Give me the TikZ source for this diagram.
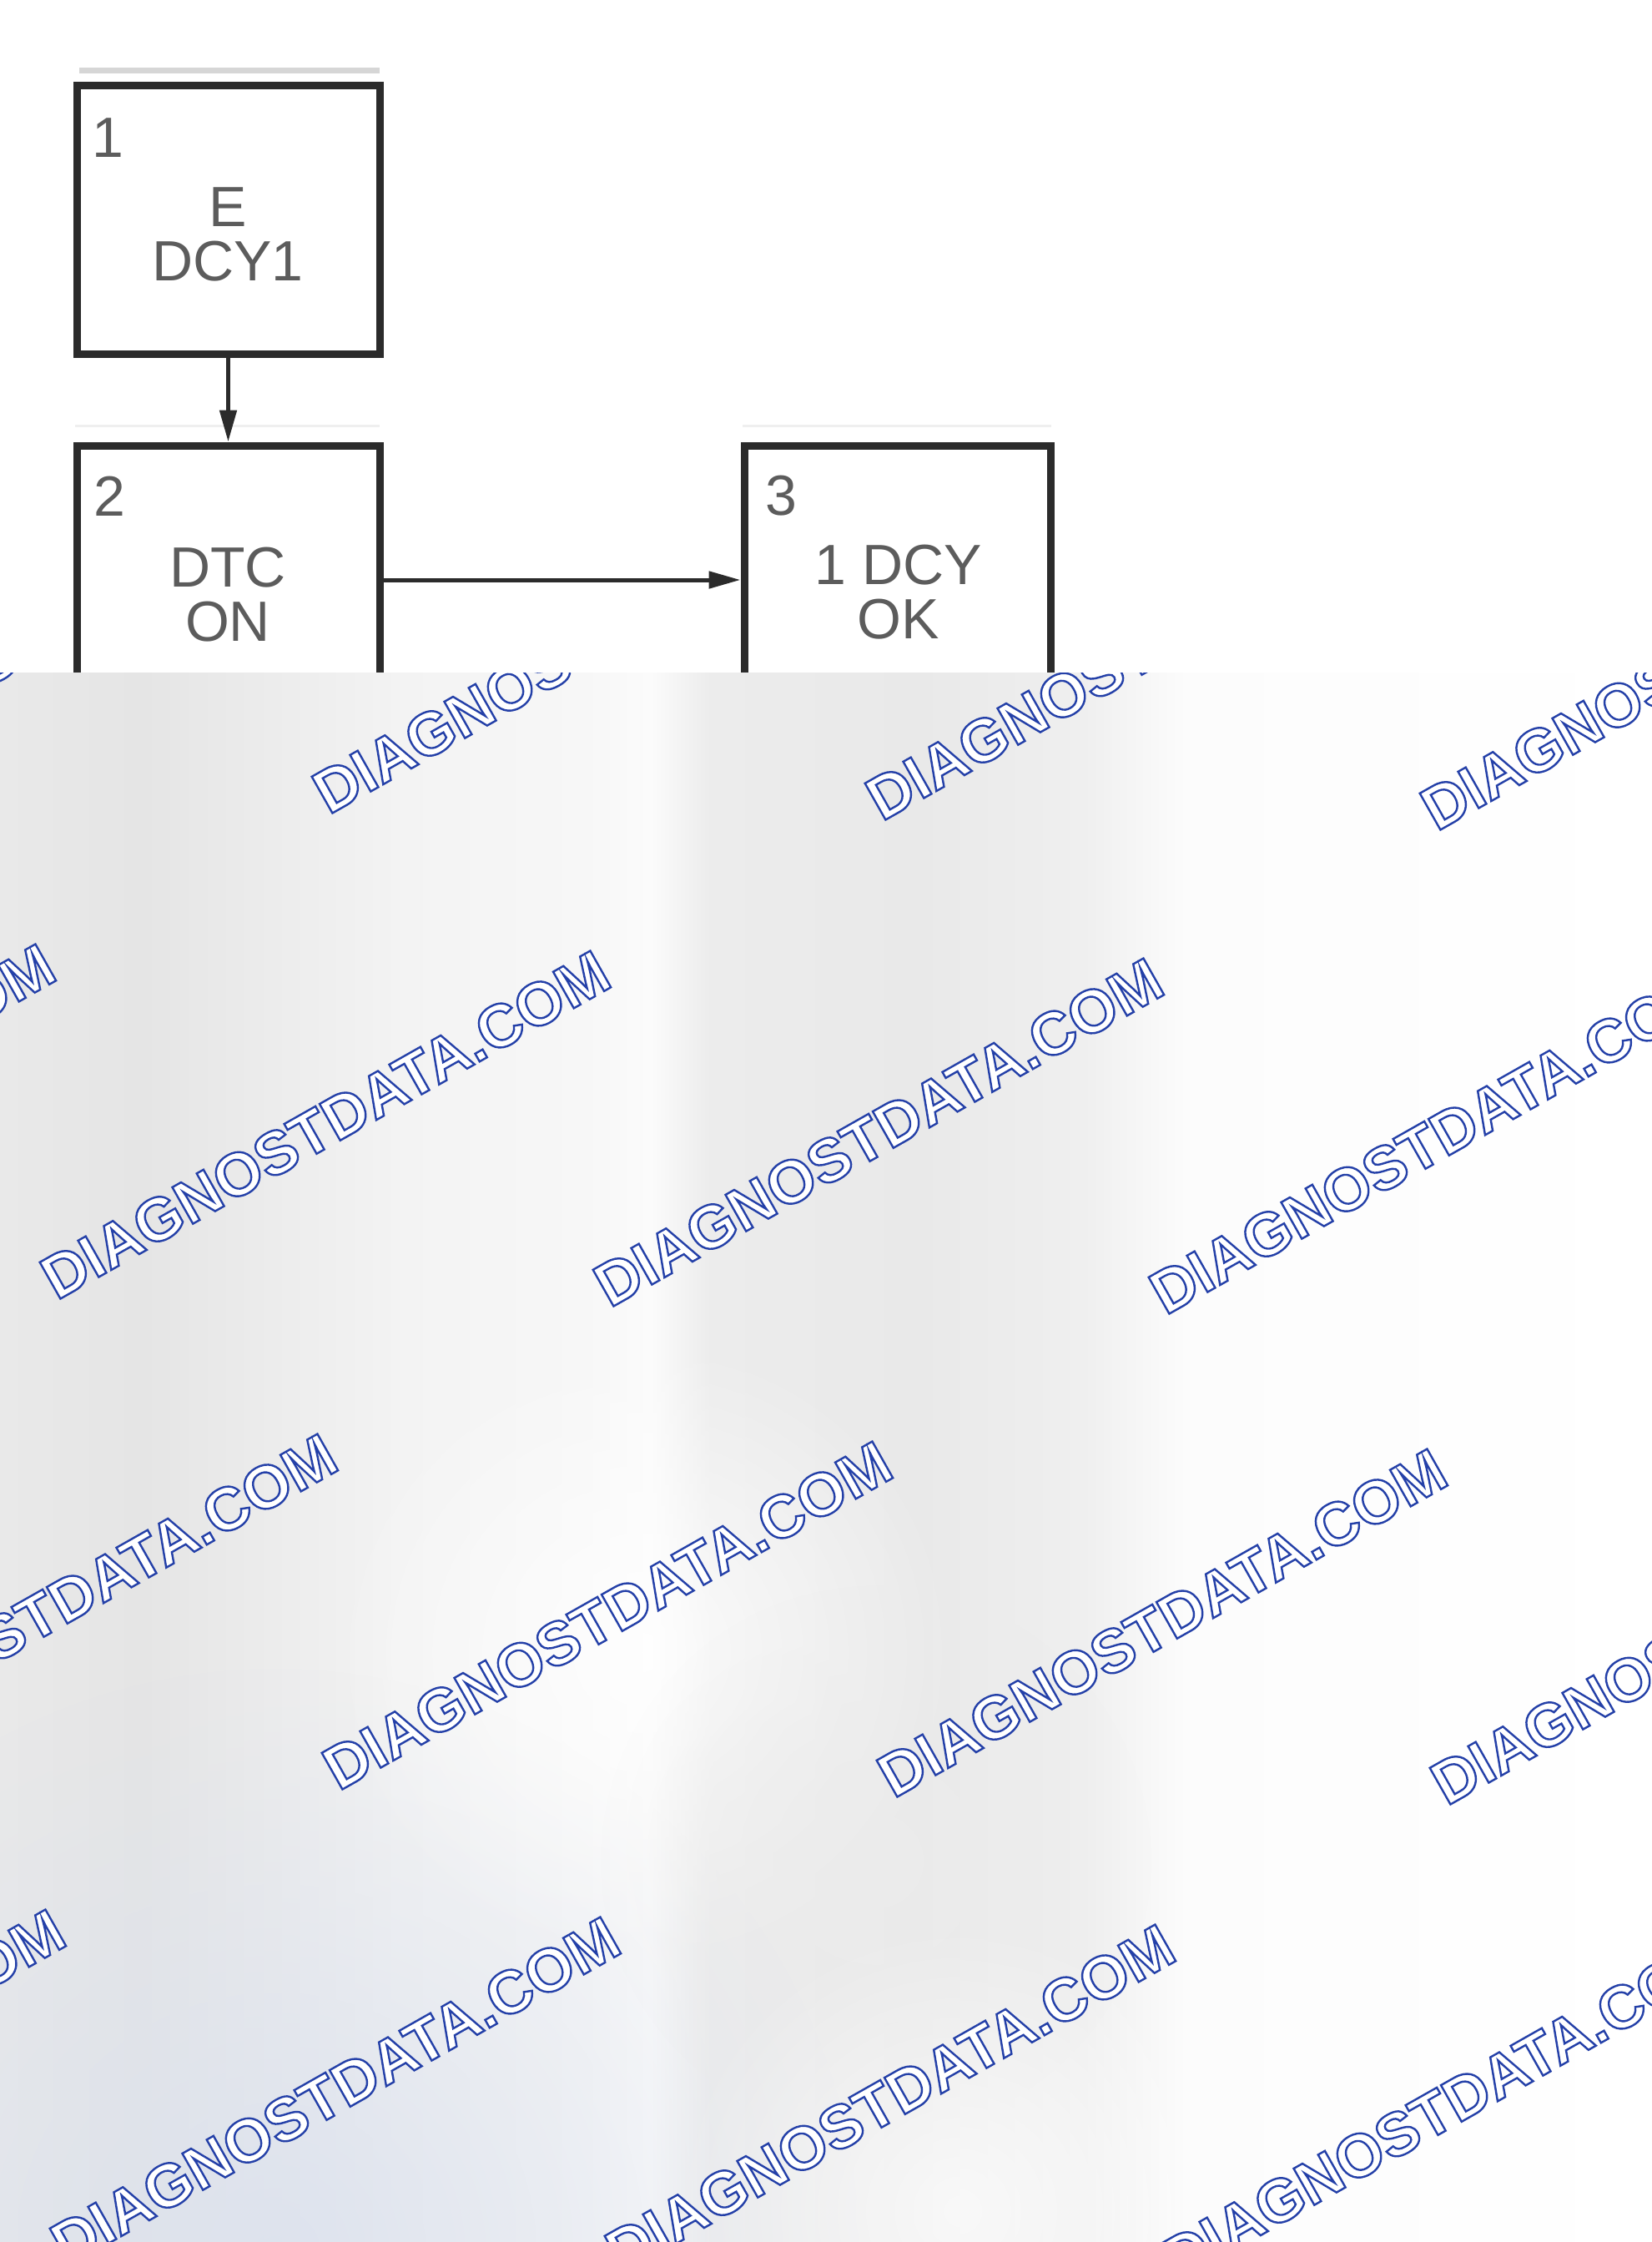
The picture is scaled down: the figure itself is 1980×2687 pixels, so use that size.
\documentclass[tikz,border=0pt]{standalone}
\usepackage{fontspec}
\setmainfont{Liberation Sans}
\newfontfamily\wmfam{Liberation Sans}
\usetikzlibrary{arrows.meta,fadings}
\definecolor{boxline}{HTML}{2B2B2B}
\definecolor{txtgrey}{HTML}{5C5C5C}
\definecolor{topgrey}{HTML}{D6D6D6}
\definecolor{faintgrey}{HTML}{EFEFEF}
\definecolor{bgA}{HTML}{E9E9E9}
\definecolor{bgB}{HTML}{E5E5E5}
\definecolor{bgC}{HTML}{EDEDED}
\definecolor{bgD}{HTML}{F3F3F3}
\definecolor{bgE}{HTML}{F7F7F7}
\definecolor{bgF}{HTML}{FBFBFB}
\definecolor{bgG}{HTML}{ECECEC}
\definecolor{bgH}{HTML}{E9E9E9}
\definecolor{bgI}{HTML}{EFEFEF}
\definecolor{bgJ}{HTML}{FCFCFC}
\definecolor{bgK}{HTML}{FFFFFF}
\definecolor{blueish}{HTML}{DCE2EE}
\pgfdeclarehorizontalshading{bgshade}{100bp}{color(0bp)=(bgA); color(25bp)=(bgA); color(29.3bp)=(bgB); color(33.8bp)=(bgC); color(37.1bp)=(bgD); color(42.7bp)=(bgE); color(44.7bp)=(bgF); color(46.5bp)=(bgG); color(52.8bp)=(bgH); color(57.8bp)=(bgI); color(60.9bp)=(bgJ); color(75bp)=(bgK); color(100bp)=(bgK)}
\tikzfading[name=blobfade, inner color=transparent!0, outer color=transparent!100]
\newcommand\wmout[1]{\special{pdf:literal direct 2 Tr 2.4 w 0.141 0.251 0.659 RG 1 1 1 rg}#1\special{pdf:literal direct 0 Tr}}
\begin{document}
\begin{tikzpicture}[x=1pt,y=-1pt,
  stepbox/.style={draw=boxline, line width=9pt, minimum width=363pt, minimum height=322pt, inner sep=0pt},
  boxtext/.style={text=txtgrey, align=center, inner sep=0pt, font=\fontsize{68}{65}\selectfont},
  numtext/.style={text=txtgrey, anchor=base west, inner sep=0pt, font=\fontsize{68}{65}\selectfont},
  conn/.style={draw=boxline, line width=5pt, -{Triangle[length=38pt,width=20pt]}},
  wm/.style={anchor=base west, rotate=29.5, inner sep=0pt, font=\wmfam\bfseries\fontsize{73}{73}\selectfont}]
\useasboundingbox (0,0) rectangle (1980,2687);
\fill[white] (0,0) rectangle (1980,2687);
% decorative lines above boxes
\draw[topgrey, line width=7pt] (95,84) -- (455,84);
\draw[faintgrey, line width=3pt] (90,510) -- (455,510);
\draw[faintgrey, line width=3pt] (890,510) -- (1260,510);
% boxes
\node[stepbox] (b1) at (273.5,263) {};
\node[stepbox] (b2) at (273.5,695) {};
\node[stepbox, minimum width=367pt] (b3) at (1075.5,695) {};
\node[numtext] (n1) at (110,188) {1};
\node[numtext] (n2) at (112,618) {2};
\node[numtext] (n3) at (917,617) {3};
\node[boxtext] (t1) at (273,281) {E\\DCY1};
\node[boxtext] (t2) at (273,713) {DTC\\ON};
\node[boxtext] (t3) at (1077,710) {1 DCY\\OK};
\draw[conn] (b1.south) -- (b2.north);
\draw[conn] (b2.east) -- (b3.west);
% lower watermark region
\fill[shading=bgshade] (0,806) rectangle (1980,2687);
\begin{scope}
\clip (0,806) rectangle (1980,2687);
\fill[blueish, opacity=0.9, path fading=blobfade] (330,2700) circle (700);
\fill[white, opacity=0.8, path fading=blobfade] (770,1980) circle (380);
\fill[bgG, opacity=0.8, path fading=blobfade] (1050,2230) circle (330);
\fill[white, opacity=0.7, path fading=blobfade] (1150,2650) circle (350);
\begin{scope}[shift={(20,8)}]
\node[wm] (wa0) at (-291,961) {\wmout{DIAGNOSTDATA.COM}};
\node[wm] (wa1) at (374,969) {\wmout{DIAGNOSTDATA.COM}};
\node[wm] (wa2) at (1037,977) {\wmout{DIAGNOSTDATA.COM}};
\node[wm] (wa3) at (1702,989) {\wmout{DIAGNOSTDATA.COM}};
\node[wm] (wb0) at (-617,1543) {\wmout{DIAGNOSTDATA.COM}};
\node[wm] (wb1) at (48,1551) {\wmout{DIAGNOSTDATA.COM}};
\node[wm] (wb2) at (711,1560) {\wmout{DIAGNOSTDATA.COM}};
\node[wm] (wb3) at (1377,1569) {\wmout{DIAGNOSTDATA.COM}};
\node[wm] (wc0) at (-279,2130) {\wmout{DIAGNOSTDATA.COM}};
\node[wm] (wc1) at (386,2139) {\wmout{DIAGNOSTDATA.COM}};
\node[wm] (wc2) at (1051,2148) {\wmout{DIAGNOSTDATA.COM}};
\node[wm] (wc3) at (1714,2157) {\wmout{DIAGNOSTDATA.COM}};
\node[wm] (wd0) at (-605,2700) {\wmout{DIAGNOSTDATA.COM}};
\node[wm] (wd1) at (60,2709) {\wmout{DIAGNOSTDATA.COM}};
\node[wm] (wd2) at (725,2718) {\wmout{DIAGNOSTDATA.COM}};
\node[wm] (wd3) at (1392,2727) {\wmout{DIAGNOSTDATA.COM}};
\end{scope}
\end{scope}
\end{tikzpicture}
\end{document}
